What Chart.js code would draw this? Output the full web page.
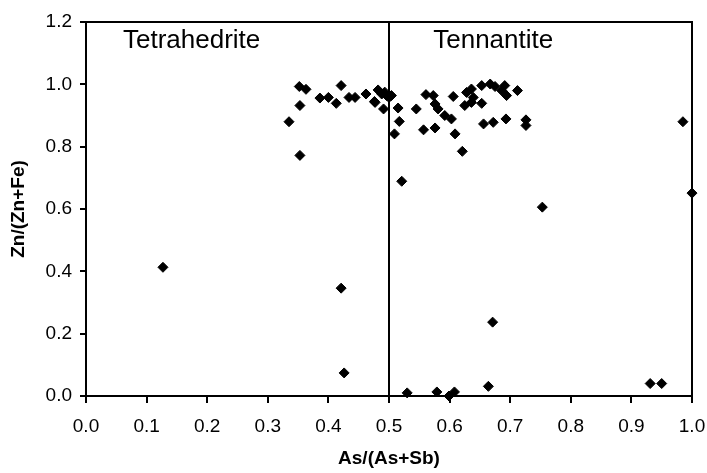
<!DOCTYPE html>
<html>
<head>
<meta charset="utf-8">
<script src="https://cdn.jsdelivr.net/npm/chart.js@4.4.0/dist/chart.umd.min.js"></script>
<style>
  html, body { margin: 0; padding: 0; background: #fff; }
  #wrap { width: 707px; height: 473px; }
</style>
</head>
<body>
<div id="wrap"><canvas id="scatterChart"></canvas></div>
<script>
// As/(As+Sb) of each analysis
const asRatio = [
    0.127, 0.335, 0.352, 0.363, 0.353, 0.353, 0.386, 0.400, 0.413, 0.421,
    0.434, 0.444, 0.462, 0.476, 0.482, 0.488, 0.491, 0.496, 0.504, 0.477,
    0.493, 0.500, 0.421, 0.426,
    0.509, 0.515, 0.517, 0.521, 0.545, 0.557, 0.561, 0.573, 0.576, 0.576,
    0.581, 0.592, 0.603, 0.606, 0.609, 0.621, 0.625, 0.628, 0.636, 0.636,
    0.639, 0.653, 0.653, 0.656, 0.667, 0.672, 0.675, 0.686, 0.691, 0.693,
    0.694, 0.712, 0.726, 0.726, 0.753, 0.985, 1.000, 0.671,
    0.530, 0.579, 0.599, 0.608, 0.664, 0.931, 0.950
];
// Zn/(Zn+Fe) of each analysis
const znRatio = [
    0.413, 0.880, 0.993, 0.984, 0.932, 0.772, 0.956, 0.958, 0.939, 0.996,
    0.958, 0.958, 0.969, 0.945, 0.982, 0.969, 0.921, 0.964, 0.964, 0.942,
    0.975, 0.958, 0.346, 0.074,
    0.841, 0.924, 0.881, 0.689, 0.921, 0.854, 0.967, 0.964, 0.937, 0.860,
    0.921, 0.900, 0.889, 0.961, 0.841, 0.785, 0.932, 0.974, 0.985, 0.942,
    0.958, 0.939, 0.996, 0.873, 1.001, 0.878, 0.993, 0.980, 0.996, 0.889,
    0.964, 0.980, 0.886, 0.868, 0.606, 0.880, 0.651, 0.237,
    0.010, 0.013, 0.000, 0.013, 0.031, 0.040, 0.040
];
// Boundary between the two fields
const boundaryX = [0.5, 0.5];
const boundaryY = [0, 1.2];
// Field names
const fieldLabels = ['Tetrahedrite', 'Tennantite'];
const fieldLabelX = [0.061, 0.573];
const fieldLabelY = 1.117;

const FONT = "'Liberation Sans', Arial, sans-serif";

// Draws the closed frame and the field names
const frameAndLabels = {
    id: 'frameAndLabels',
    afterDraw(chart) {
        const { ctx, chartArea, scales } = chart;
        ctx.save();
        ctx.strokeStyle = '#000';
        ctx.lineWidth = 2;
        ctx.strokeRect(chartArea.left, chartArea.top,
            chartArea.right - chartArea.left, chartArea.bottom - chartArea.top);
        ctx.fillStyle = '#000';
        ctx.font = '26px ' + FONT;
        ctx.textAlign = 'left';
        ctx.textBaseline = 'alphabetic';
        fieldLabels.forEach((label, i) => {
            ctx.fillText(label, scales.x.getPixelForValue(fieldLabelX[i]),
                scales.y.getPixelForValue(fieldLabelY));
        });
        ctx.restore();
    }
};

new Chart(document.getElementById('scatterChart'), {
    type: 'scatter',
    data: {
        datasets: [{
            data: asRatio.map((x, i) => ({ x: x, y: znRatio[i] })),
            pointStyle: 'rectRot',
            pointRadius: 5,
            pointBackgroundColor: '#000',
            pointBorderColor: '#000',
            pointBorderWidth: 1,
            clip: false
        }, {
            type: 'line',
            data: boundaryX.map((x, i) => ({ x: x, y: boundaryY[i] })),
            borderColor: '#000',
            borderWidth: 2,
            pointRadius: 0,
            fill: false
        }]
    },
    options: {
        responsive: true,
        maintainAspectRatio: false,
        animation: false,
        layout: { padding: { top: 22, right: 15, left: 0, bottom: 0 } },
        plugins: {
            legend: { display: false },
            tooltip: { enabled: false }
        },
        scales: {
            x: {
                type: 'linear',
                min: 0,
                max: 1,
                afterFit(scale) {
                    scale.height = 77;
                    scale.paddingLeft = 0;
                    scale.paddingRight = 0;
                },
                border: { display: true, color: '#000', width: 2 },
                grid: {
                    drawOnChartArea: false,
                    drawTicks: true,
                    tickLength: 7,
                    color: '#000',
                    lineWidth: 2
                },
                ticks: {
                    stepSize: 0.1,
                    padding: 12,
                    color: '#000',
                    font: { size: 19, family: FONT },
                    callback: v => v.toFixed(1)
                },
                title: {
                    display: true,
                    text: 'As/(As+Sb)',
                    color: '#000',
                    font: { size: 19, weight: 'bold', family: FONT },
                    padding: { top: 0, bottom: 3 }
                }
            },
            y: {
                type: 'linear',
                min: 0,
                max: 1.2,
                afterFit(scale) {
                    scale.width = 86;
                    scale.paddingTop = 0;
                    scale.paddingBottom = 0;
                },
                border: { display: true, color: '#000', width: 2 },
                grid: {
                    drawOnChartArea: false,
                    drawTicks: true,
                    tickLength: 6,
                    color: '#000',
                    lineWidth: 2
                },
                ticks: {
                    stepSize: 0.2,
                    padding: 8,
                    color: '#000',
                    font: { size: 19, family: FONT },
                    callback: v => v.toFixed(1)
                },
                title: {
                    display: true,
                    text: 'Zn/(Zn+Fe)',
                    color: '#000',
                    font: { size: 19, weight: 'bold', family: FONT },
                    padding: { top: 7, bottom: 0 }
                }
            }
        }
    },
    plugins: [frameAndLabels]
});
</script>
</body>
</html>
